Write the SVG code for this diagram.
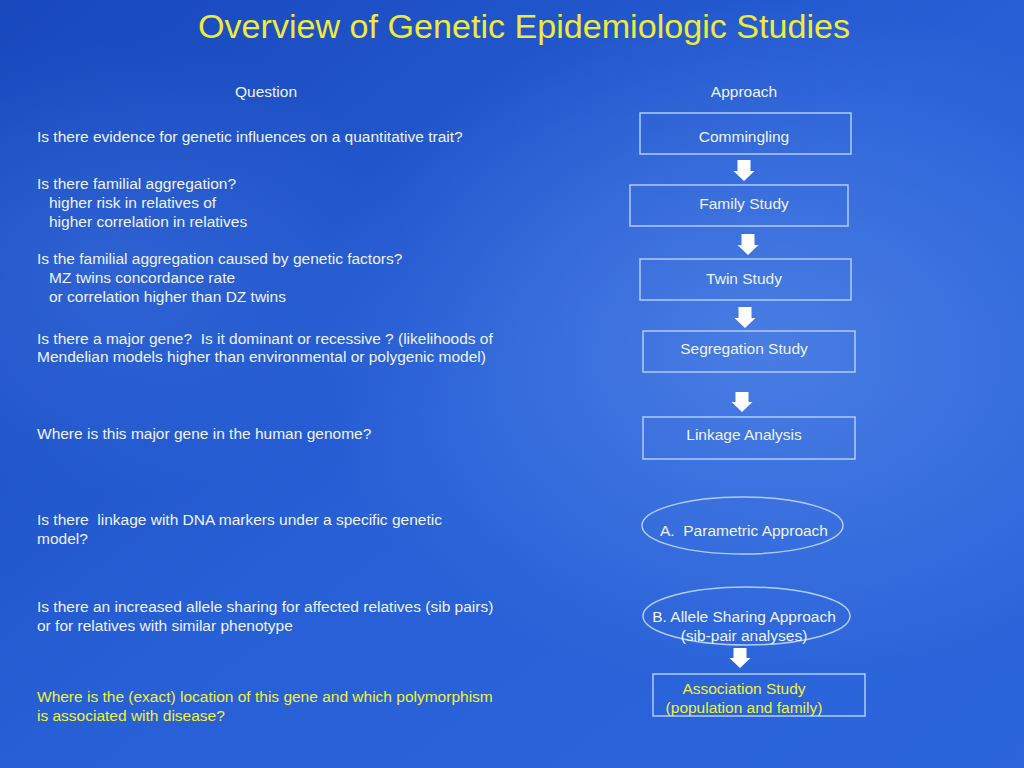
<svg xmlns="http://www.w3.org/2000/svg" width="1024" height="768" viewBox="0 0 1024 768">
<defs>
<linearGradient id="bg" x1="0" y1="0" x2="1" y2="1">
<stop offset="0" stop-color="#1848bc"/>
<stop offset="0.5" stop-color="#275fd6"/>
<stop offset="1" stop-color="#2c66dc"/>
</linearGradient>
<radialGradient id="glow1" cx="0.75" cy="0.45" r="0.45">
<stop offset="0" stop-color="#6a9af0" stop-opacity="0.5"/>
<stop offset="1" stop-color="#6a9af0" stop-opacity="0"/>
</radialGradient>
<radialGradient id="glow2" cx="0.1" cy="0.35" r="0.3">
<stop offset="0" stop-color="#4a80e8" stop-opacity="0.35"/>
<stop offset="1" stop-color="#4a80e8" stop-opacity="0"/>
</radialGradient>
<style>
.t{font-family:"Liberation Sans",Arial,sans-serif;font-size:15.5px;fill:#eef2fa;white-space:pre}
.c{text-anchor:middle}
.y{fill:#f0f03a}
.box{fill:none;stroke:#b0ccff;stroke-width:1.5}
.arr{fill:#ffffff}
</style>
</defs>
<rect width="1024" height="768" fill="url(#bg)"/>
<rect width="1024" height="768" fill="url(#glow1)"/>
<rect width="1024" height="768" fill="url(#glow2)"/>
<text x="524" y="38" font-family="Liberation Sans,Arial,sans-serif" font-size="33" fill="#f0ea38" text-anchor="middle" textLength="652" lengthAdjust="spacingAndGlyphs">Overview of Genetic Epidemiologic Studies</text>

<g id="headers">
<text class="t c" x="266" y="97">Question</text>
<text class="t c" x="744" y="97">Approach</text>
</g>

<g id="questions">
<text class="t" x="37" y="142">Is there evidence for genetic influences on a quantitative trait?</text>
<text class="t" x="37" y="189">Is there familial aggregation?</text>
<text class="t" x="49" y="208">higher risk in relatives of</text>
<text class="t" x="49" y="227">higher correlation in relatives</text>
<text class="t" x="37" y="264">Is the familial aggregation caused by genetic factors?</text>
<text class="t" x="49" y="283">MZ twins concordance rate</text>
<text class="t" x="49" y="302">or correlation higher than DZ twins</text>
<text class="t" x="37" y="344" xml:space="preserve">Is there a major gene?  Is it dominant or recessive ? (likelihoods of</text>
<text class="t" x="37" y="362">Mendelian models higher than environmental or polygenic model)</text>
<text class="t" x="37" y="439">Where is this major gene in the human genome?</text>
<text class="t" x="37" y="525" xml:space="preserve">Is there  linkage with DNA markers under a specific genetic</text>
<text class="t" x="37" y="544">model?</text>
<text class="t" x="37" y="612">Is there an increased allele sharing for affected relatives (sib pairs)</text>
<text class="t" x="37" y="631">or for relatives with similar phenotype</text>
<text class="t y" x="37" y="702">Where is the (exact) location of this gene and which polymorphism</text>
<text class="t y" x="37" y="721">is associated with disease?</text>
</g>

<g id="commingling">
<rect class="box" x="640" y="113" width="211" height="41"/>
<text class="t c" x="744" y="142">Commingling</text>
</g>
<g id="family-study">
<rect class="box" x="630" y="185" width="218" height="41"/>
<text class="t c" x="744" y="209">Family Study</text>
</g>
<g id="twin-study">
<rect class="box" x="640" y="259" width="211" height="41"/>
<text class="t c" x="744" y="284">Twin Study</text>
</g>
<g id="segregation-study">
<rect class="box" x="643" y="331" width="212" height="41"/>
<text class="t c" x="744" y="354">Segregation Study</text>
</g>
<g id="linkage-analysis">
<rect class="box" x="643" y="417" width="212" height="42"/>
<text class="t c" x="744" y="440">Linkage Analysis</text>
</g>
<g id="parametric">
<ellipse class="box" cx="742.5" cy="525.5" rx="100.5" ry="28.5"/>
<text class="t c" x="744" y="536" xml:space="preserve">A.  Parametric Approach</text>
</g>
<g id="allele-sharing">
<ellipse class="box" cx="746.5" cy="616" rx="103.5" ry="29"/>
<text class="t c" x="744" y="622">B. Allele Sharing Approach</text>
<text class="t c" x="744" y="641">(sib-pair analyses)</text>
</g>
<g id="association-study">
<rect class="box" x="653" y="674" width="212" height="42"/>
<text class="t c y" x="744" y="694">Association Study</text>
<text class="t c y" x="744" y="713">(population and family)</text>
</g>

<g id="connectors">
<polygon class="arr" points="737.5,160 750.5,160 750.5,171 754.5,171 744,181 733.5,171 737.5,171"/>
<polygon class="arr" points="741.5,234 754.5,234 754.5,245 758.5,245 748,255 737.5,245 741.5,245"/>
<polygon class="arr" points="738.5,307 751.5,307 751.5,318 755.5,318 745,328 734.5,318 738.5,318"/>
<polygon class="arr" points="735.5,392 748.5,392 748.5,402 752.5,402 742,412 731.5,402 735.5,402"/>
<polygon class="arr" points="733.5,648 746.5,648 746.5,658 750.5,658 740,668 729.5,658 733.5,658"/>
</g>
</svg>
